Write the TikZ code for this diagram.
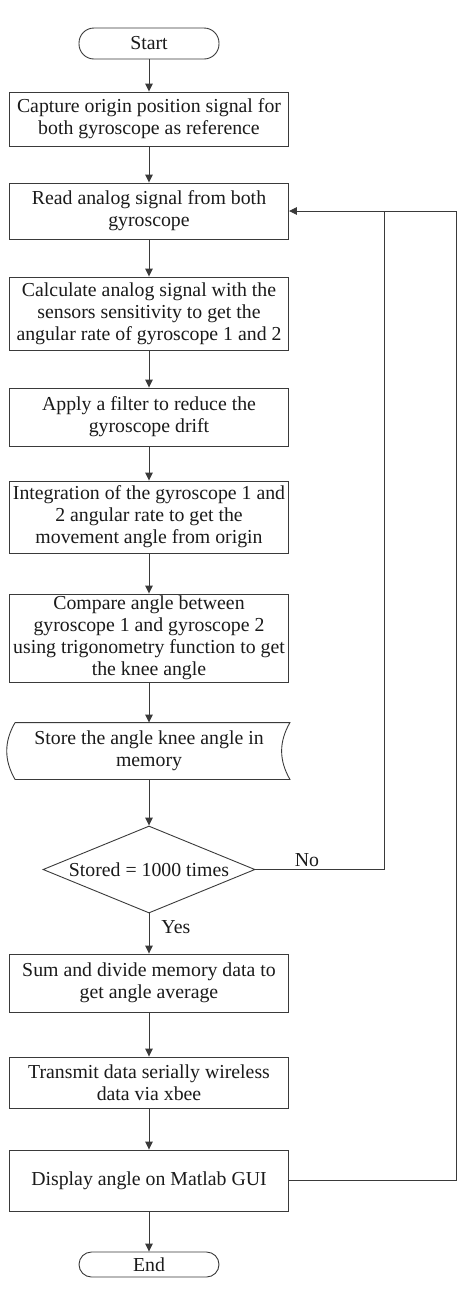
\documentclass[tikz,border=0pt]{standalone}
\usepackage{fontspec}
\setmainfont{Liberation Serif}
\usetikzlibrary{arrows.meta, shapes.geometric}
\definecolor{cline}{HTML}{3A3A3A}
\definecolor{ctext}{HTML}{1A1A1A}
\tikzset{
  every picture/.style={font=\fontsize{19.8}{22}\selectfont, line width=0.9pt, text=ctext},
  box/.style={draw=cline, rectangle, align=center, minimum width=279pt, inner sep=2pt},
  term/.style={draw=cline, rectangle, rounded corners=#1, minimum width=140pt, align=center, inner sep=1pt},
  term/.default=15pt,
  arrow/.style={-{Triangle[length=8pt, width=7.5pt]}, draw=cline},
  link/.style={draw=cline},
  lbl/.style={font=\fontsize{19.8}{22}\selectfont, inner sep=2pt},
}

\begin{document}
\begin{tikzpicture}[x=1pt, y=-1pt]
  \useasboundingbox (0,0) rectangle (459,1299);
  % main column
  \node[term, minimum height=31pt] (start) at (149,43.5) {Start};
  \node[box, minimum height=54pt] (b1) at (149,119) {Capture origin position signal for\\both gyroscope as reference};
  \node[box, minimum height=56pt] (b2) at (149,211) {Read analog signal from both\\gyroscope};
  \node[box, minimum height=73pt] (b3) at (149,313.5) {Calculate analog signal with the\\sensors sensitivity to get the\\angular rate of gyroscope 1 and 2};
  \node[box, minimum height=58pt] (b4) at (149,417) {Apply a filter to reduce the\\gyroscope drift};
  \node[box, minimum height=72pt] (b5) at (149,517) {Integration of the gyroscope 1 and\\2 angular rate to get the\\movement angle from origin};
  \node[box, minimum height=88pt] (b6) at (149,638) {Compare angle between\\gyroscope 1 and gyroscope 2\\using trigonometry function to get\\the knee angle};
  \node[box, draw=none, minimum height=56pt] (st) at (149,751) {Store the angle knee angle in\\memory};
  \draw[link] ([xshift=6pt]st.north west) -- ([xshift=1pt]st.north east)
    to[bend right=30] ([xshift=1pt]st.south east) -- ([xshift=6pt]st.south west)
    to[bend left=30] ([xshift=6pt]st.north west);
  \node[diamond, draw=cline, aspect=2.44, minimum width=212pt, minimum height=87pt, inner sep=0pt] (dec) at (149,869.5) {Stored = 1000 times};
  \node[box, minimum height=58pt] (b7) at (149,983) {Sum and divide memory data to\\get angle average};
  \node[box, minimum height=51pt] (b8) at (149,1082.5) {Transmit data serially wireless\\data via xbee};
  \node[box, minimum height=61pt] (b9) at (149,1180.5) {Display angle on Matlab GUI};
  \node[term=12.5pt, minimum height=25pt] (end) at (149,1264.5) {End};

  \foreach \a/\b in {start/b1, b1/b2, b2/b3, b3/b4, b4/b5, b5/b6, b6/st, st/dec, b7/b8, b8/b9, b9/end}
    \draw[arrow] (\a) -- (\b);
  \draw[arrow] (dec) -- node[lbl, right=10pt, pos=0.35] {Yes} (b7);

  % loop back to reading
  \coordinate (nojoin) at (384,211);
  \coordinate (backtop) at (456,211);
  \draw[arrow] (dec.east) -- node[lbl, above, pos=0.4] {No} (dec.east -| nojoin) |- (b2.east);
  \draw[link] (b9.east) -| (backtop) -- (nojoin);
\end{tikzpicture}
\end{document}
